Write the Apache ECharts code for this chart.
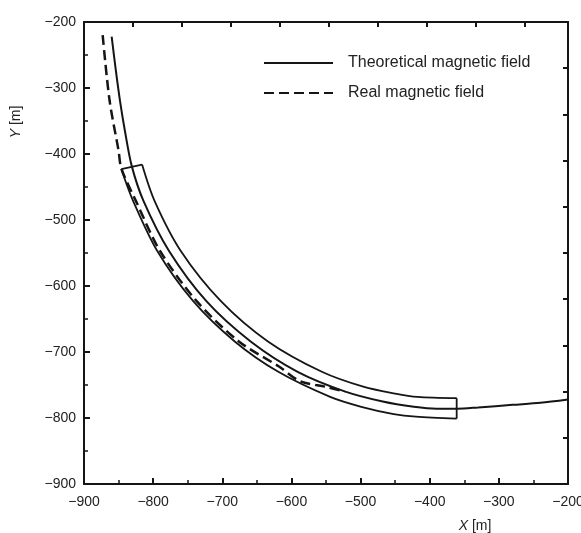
<!DOCTYPE html>
<html>
<head>
<meta charset="utf-8">
<title>Magnetic field</title>
<script src="https://cdn.jsdelivr.net/npm/echarts@6/dist/echarts.min.js"></script>
<style>
    html, body { margin: 0; padding: 0; background: #fff; }
    #chart { width: 581px; height: 533px; }
</style>
</head>
<body>
<div id="chart"></div>
<script>
    // theoretical magnetic field (solid, centre of the band)
    const theoX = [-860, -854, -848, -841, -831, -814, -777, -723, -659, -591, -522, -468, -423, -390, -360, -330, -280, -240, -200]
    const theoY = [-222, -273, -319, -364, -418, -471, -547, -623, -684, -730, -760, -775, -783, -786, -786, -784, -780, -777, -772]
    // real magnetic field (dashed)
    const realX = [-873, -863, -850, -846, -825, -790, -737, -676, -618, -588, -549, -523]
    const realY = [-220, -319, -395, -422, -471, -547, -623, -684, -722, -744, -753, -760]
    // band edges
    const upperX = [-816, -798, -760, -702, -634, -556, -495, -450, -418, -361]
    const upperY = [-416, -471, -547, -623, -684, -730, -753, -763, -768, -770]
    const lowerX = [-846, -829, -794, -742, -682, -619, -544, -499, -452, -420, -361]
    const lowerY = [-423, -471, -547, -623, -684, -730, -768, -783, -794, -798, -801]
    // end caps of the band
    const startCapX = [-846, -816]
    const startCapY = [-423, -416]
    const endCapX = [-361, -361]
    const endCapY = [-770, -801]

    const xTicks = [-900, -200, 100]
    const yTicks = [-900, -200, 100]

    const ink = '#151515'
    const font = 'Liberation Sans, Arial, sans-serif'

    function pairs(xs, ys) {
        return xs.map((x, i) => [x, ys[i]])
    }
    function minus(v) {
        return String(v).replace('-', '\u2212')
    }

    const chart = echarts.init(document.getElementById('chart'))

    // shared axis look: frame lines with inward ticks
    const lineStyle = { color: ink, width: 2 }
    function mainAxis(pos, range, margin) {
        return {
            type: 'value',
            position: pos,
            min: range[0],
            max: range[1],
            interval: range[2],
            axisLine: { show: true, onZero: false, lineStyle: lineStyle },
            axisTick: { show: true, inside: true, length: 6, lineStyle: { color: ink, width: 2 } },
            minorTick: { show: true, splitNumber: 2, length: 4, lineStyle: { color: ink, width: 1.5 } },
            splitLine: { show: false },
            axisLabel: { color: '#222', fontSize: 14, fontFamily: font, margin: margin, formatter: minus }
        }
    }
    function frameAxis(pos, max) {
        return {
            type: 'value',
            position: pos,
            min: 0,
            max: max,
            interval: 1,
            axisLine: { show: true, onZero: false, lineStyle: lineStyle },
            axisTick: { show: true, inside: true, length: 5, lineStyle: { color: ink, width: 2 } },
            splitLine: { show: false },
            axisLabel: { show: false }
        }
    }

    const xMain = mainAxis('bottom', xTicks, 11)
    xMain.name = '{i|X} [m]'
    xMain.nameLocation = 'middle'
    xMain.nameGap = 35
    xMain.nameTextStyle = {
        color: '#222', fontSize: 14, fontFamily: font, padding: [0, 0, 0, 298],
        rich: { i: { fontStyle: 'italic', fontSize: 14, fontFamily: font, color: '#222' } }
    }
    const yMain = mainAxis('left', yTicks, 8)
    yMain.name = '{i|Y} [m]'
    yMain.nameLocation = 'middle'
    yMain.nameGap = 61
    yMain.nameTextStyle = {
        color: '#222', fontSize: 14, fontFamily: font, padding: [0, 0, 0, 262],
        rich: { i: { fontStyle: 'italic', fontSize: 14, fontFamily: font, color: '#222' } }
    }

    function solid(name, data, width) {
        return {
            name: name,
            type: 'line',
            data: data,
            symbol: 'none',
            smooth: 0.3,
            silent: true,
            lineStyle: { color: ink, width: width },
            itemStyle: { color: ink }
        }
    }

    const realSeries = solid('Real magnetic field', pairs(realX, realY), 2.5)
    realSeries.lineStyle.type = [10, 5]
    realSeries.z = 5

    const option = {
        backgroundColor: '#fff',
        animation: false,
        // fixed plot box, names may sit near the edge
        grid: { left: 84, right: 13, top: 22, bottom: 49, outerBoundsMode: 'none' },
        legend: {
            data: ['Theoretical magnetic field', 'Real magnetic field'],
            orient: 'vertical',
            left: 258,
            top: 50,
            itemWidth: 69,
            itemHeight: 14,
            itemGap: 14,
            // line only, no marker in the legend
            itemStyle: { opacity: 0 },
            textStyle: { color: '#222', fontSize: 16, fontFamily: font, padding: [0, 0, 0, 10] }
        },
        xAxis: [xMain, frameAxis('top', 9.88)],
        yAxis: [yMain, frameAxis('right', 10)],
        series: [
            solid('Theoretical magnetic field', pairs(theoX, theoY), 2),
            realSeries,
            solid('band upper', pairs(upperX, upperY), 1.8),
            solid('band lower', pairs(lowerX, lowerY), 1.8),
            solid('band start', pairs(startCapX, startCapY), 1.8),
            solid('band end', pairs(endCapX, endCapY), 1.8)
        ]
    }
    chart.setOption(option)
</script>
</body>
</html>
